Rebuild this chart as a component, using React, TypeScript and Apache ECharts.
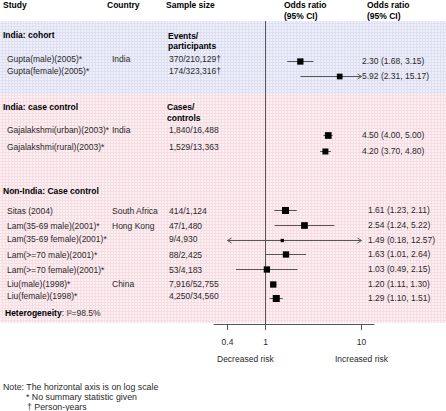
import React, { useEffect, useRef } from "react";
import * as echarts from "echarts";

// ---------- data ----------
const studies = [
  "Gupta(male)(2005)*",
  "Gupta(female)(2005)*",
  "Gajalakshmi(urban)(2003)*",
  "Gajalakshmi(rural)(2003)*",
  "Sitas (2004)",
  "Lam(35-69 male)(2001)*",
  "Lam(35-69 female)(2001)*",
  "Lam(>=70 male)(2001)*",
  "Lam(>=70 female)(2001)*",
  "Liu(male)(1998)*",
  "Liu(female)(1998)*",
];
const countries = ["India", "", "India", "", "South Africa", "Hong Kong", "", "", "", "China", ""];
const sampleSizes = [
  "370/210,129†",
  "174/323,316†",
  "1,840/16,488",
  "1,529/13,363",
  "414/1,124",
  "47/1,480",
  "9/4,930",
  "88/2,425",
  "53/4,183",
  "7,916/52,755",
  "4,250/34,560",
];
const oddsRatio = [2.3, 5.92, 4.5, 4.2, 1.61, 2.54, 1.49, 1.63, 1.03, 1.2, 1.29];
const ciLower = [1.68, 2.31, 4.0, 3.7, 1.23, 1.24, 0.18, 1.01, 0.49, 1.11, 1.1];
const ciUpper = [3.15, 15.17, 5.0, 4.8, 2.11, 5.22, 12.57, 2.64, 2.15, 1.3, 1.51];
const isIndia = [true, true, true, true, false, false, false, false, false, false, false];
const xTicks = [0.4, 1, 10];
const clipLow = 0.4;
const clipHigh = 10;

// ---------- layout (row positions in row units, marker sizes in px) ----------
const markRow = [3.82, 4.82, 8.86, 9.93, 14, 15, 16, 17, 18, 19, 20];
const textRow = [3.68, 4.52, 8.52, 9.66, 14.04, 15.06, 15.95, 17.03, 18.06, 19.01, 19.83];
const markSize = [6.3, 5.7, 6.7, 6, 7, 6.7, 3.3, 6.3, 6.3, 6.3, 7];

const FONT = "'Liberation Sans', Arial, Helvetica, sans-serif";
const FS = 8.5;
const NOTE_FS = 8.8;
const TXT = "#2a2a2a";

function tile(line: string) {
  const svg = `<svg xmlns="http://www.w3.org/2000/svg" width="3" height="3"><rect x="2" y="0" width="1" height="3" fill="${line}"/><rect x="0" y="2" width="3" height="1" fill="${line}"/></svg>`;
  return "data:image/svg+xml;charset=utf-8," + encodeURIComponent(svg);
}

export default function App() {
  const ref = useRef<HTMLDivElement>(null);
  useEffect(() => {
    if (!ref.current) return;
    const chart = echarts.init(ref.current, undefined, { renderer: "svg" });

    const seriesData = oddsRatio.map((v, i) => [v, ciLower[i], ciUpper[i], markRow[i], markSize[i]]);

    chart.setOption({
      animation: false,
      grid: { left: 214, top: 21, width: 160, height: 303, containLabel: false },
      xAxis: {
        type: "log",
        logBase: 10,
        min: 0.289,
        max: 13.5,
        splitLine: { show: false },
        axisLine: { show: true, lineStyle: { color: "#555", width: 1 } },
        axisTick: { show: true, customValues: xTicks, length: 6, lineStyle: { color: "#555", width: 1 } },
        axisLabel: {
          show: true,
          customValues: xTicks,
          margin: 13,
          fontSize: FS,
          fontFamily: FONT,
          color: TXT,
          formatter: (v: number) => String(v),
        },
      },
      yAxis: { type: "value", inverse: true, min: 1.09, max: 21.738, show: false },
      series: [
        {
          type: "custom",
          coordinateSystem: "cartesian2d",
          clip: false,
          encode: { x: [0, 1, 2], y: 3 },
          data: seriesData,
          renderItem: (params: any, api: any) => {
            const or = api.value(0);
            const lo = api.value(1);
            const hi = api.value(2);
            const row = api.value(3);
            const sz = api.value(4);
            const y = Math.round(api.coord([1, row])[1]) + 0.5;
            const x0 = api.coord([Math.max(lo, clipLow), row])[0];
            const x1 = api.coord([Math.min(hi, clipHigh), row])[0];
            const xc = api.coord([or, row])[0];
            const lineStyle = { stroke: "#555", lineWidth: 1, fill: "none" };
            const children: any[] = [
              { type: "line", shape: { x1: x0, y1: y, x2: x1, y2: y }, style: lineStyle },
            ];
            if (lo < clipLow) {
              children.push({
                type: "polyline",
                shape: { points: [[x0 + 4, y - 2.5], [x0, y], [x0 + 4, y + 2.5]] },
                style: lineStyle,
              });
            }
            if (hi > clipHigh) {
              children.push({
                type: "polyline",
                shape: { points: [[x1 - 4, y - 2.5], [x1, y], [x1 - 4, y + 2.5]] },
                style: lineStyle,
              });
            }
            children.push({
              type: "rect",
              shape: { x: xc - sz / 2, y: y - sz / 2, width: sz, height: sz },
              style: { fill: "#000" },
            });
            return { type: "group", children };
          },
          markLine: {
            silent: true,
            symbol: "none",
            label: { show: false },
            lineStyle: { color: "#555", width: 1, type: "solid" },
            data: [{ xAxis: 1 }],
          },
          z: 5,
        },
      ],
    });

    const yOf = (row: number) => chart.convertToPixel({ xAxisIndex: 0, yAxisIndex: 0 }, [1, row])[1];

    const t = (text: string, x: number, y: number, bold = false, extra: any = {}) => ({
      type: "text",
      x,
      y,
      z: 10,
      style: {
        text,
        fill: bold ? "#000" : TXT,
        fontSize: FS,
        fontFamily: FONT,
        fontWeight: bold ? "bold" : "normal",
        align: "left",
        verticalAlign: "middle",
        ...extra,
      },
    });

    const g: any[] = [
      { type: "rect", z: -2, shape: { x: 0, y: 21, width: 446, height: 73 }, style: { fill: "#efeffa" } },
      { type: "rect", z: -2, shape: { x: 0, y: 94, width: 446, height: 229 }, style: { fill: "#fcf0f3" } },
      {
        type: "rect", z: -1, shape: { x: 0, y: 21, width: 446, height: 73 },
        style: { fill: { image: tile("#dfdff3"), repeat: "repeat", imageWidth: 3, imageHeight: 3 } },
      },
      {
        type: "rect", z: -1, shape: { x: 0, y: 94, width: 446, height: 229 },
        style: { fill: { image: tile("#f6dde4"), repeat: "repeat", imageWidth: 3, imageHeight: 3 } },
      },
      t("Study", 3, 5, true),
      t("Country", 107, 5, true),
      t("Sample size", 166, 5, true),
      t("Odds ratio", 284, 5, true),
      t("(95% CI)", 284, 15.5, true),
      t("Odds ratio", 367, 5, true),
      t("(95% CI)", 367, 15.5, true),
      t("India: cohort", 3, 35, true),
      t("Events/", 168, 35.5, true),
      t("participants", 168, 46, true),
      t("India: case control", 3, 107, true),
      t("Cases/", 167, 107, true),
      t("controls", 167, 118, true),
      t("Non-India: Case control", 3, 191, true),
      {
        type: "text",
        x: 5,
        y: 313,
        z: 10,
        style: {
          text: "{b|Heterogeneity}: I²=98.5%",
          fill: TXT,
          fontSize: FS,
          fontFamily: FONT,
          align: "left",
          verticalAlign: "middle",
          rich: { b: { fontWeight: "bold", fill: "#000", fontSize: FS, fontFamily: FONT } },
        },
      },
      t("Decreased risk", 217, 359),
      t("Increased risk", 335, 359),
      t("Note: The horizontal axis is on log scale", 3, 387, false, { fontSize: NOTE_FS }),
      t("* No summary statistic given", 26, 397, false, { fontSize: NOTE_FS }),
      t("† Person-years", 27, 407, false, { fontSize: NOTE_FS }),
    ];

    studies.forEach((s, i) => {
      const ty = yOf(textRow[i]);
      const my = yOf(markRow[i]);
      g.push(t(s, 7, ty));
      if (countries[i]) g.push(t(countries[i], 112, ty));
      g.push(t(sampleSizes[i], 169, ty));
      g.push(
        t(
          `${oddsRatio[i].toFixed(2)} (${ciLower[i].toFixed(2)}, ${ciUpper[i].toFixed(2)})`,
          isIndia[i] ? 362 : 368,
          my
        )
      );
    });

    chart.setOption({ graphic: { elements: g } });

    return () => chart.dispose();
  }, []);

  return <div ref={ref} style={{ width: 446, height: 411, position: "absolute", left: 0, top: 0 }} />;
}
